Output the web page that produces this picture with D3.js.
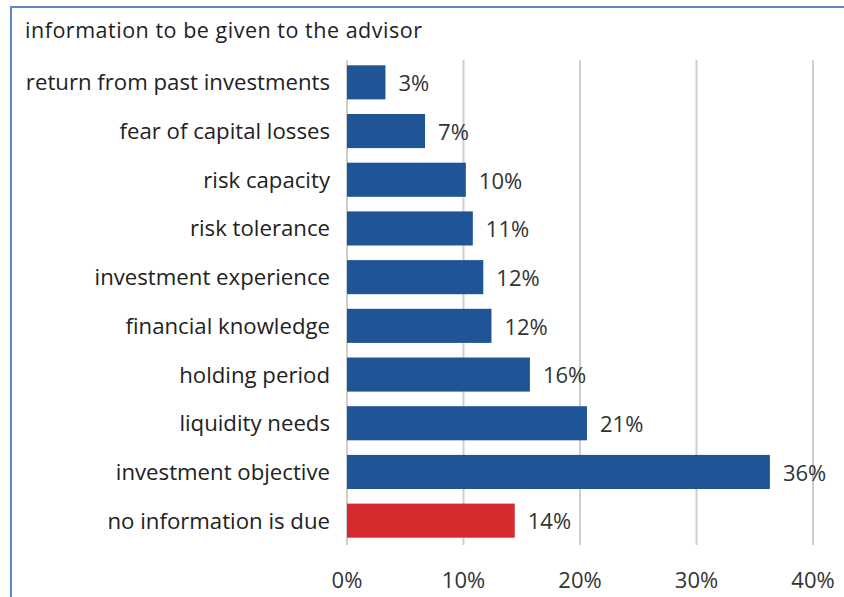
<!DOCTYPE html>
<html>
<head>
<meta charset="utf-8">
<script src="https://cdn.jsdelivr.net/npm/d3@7"></script>
<style>
  body { margin: 0; background: #fff; }
  svg text { font-family: "Open Sans", sans-serif; fill: #222; }
</style>
</head>
<body>
<svg id="chart" width="844" height="597"></svg>
<script>
const title = "information to be given to the advisor";
const categories = [
  "return from past investments",
  "fear of capital losses",
  "risk capacity",
  "risk tolerance",
  "investment experience",
  "financial knowledge",
  "holding period",
  "liquidity needs",
  "investment objective",
  "no information is due"
];
const values = [3.3, 6.7, 10.2, 10.8, 11.7, 12.4, 15.7, 20.6, 36.3, 14.4];
const valueLabels = ["3%", "7%", "10%", "11%", "12%", "12%", "16%", "21%", "36%", "14%"];
const barColors = ["#1f5597", "#1f5597", "#1f5597", "#1f5597", "#1f5597",
  "#1f5597", "#1f5597", "#1f5597", "#1f5597", "#d62b2e"];
const ticks = [0, 10, 20, 30, 40];

const svg = d3.select("#chart");

// frame lines (top and left)
svg.append("line").attr("x1", 11).attr("x2", 844).attr("y1", 7).attr("y2", 7)
  .attr("stroke", "#5b87c9").attr("stroke-width", 2);
svg.append("line").attr("x1", 11).attr("x2", 11).attr("y1", 6).attr("y2", 597)
  .attr("stroke", "#5b87c9").attr("stroke-width", 2);

svg.append("text").attr("x", 25).attr("y", 38)
  .attr("font-size", 21.5).attr("textLength", 397).text(title);

const x = d3.scaleLinear().domain([0, 40]).range([347, 813]);
const y = d3.scaleBand().domain(categories).range([58, 545]).paddingInner(0.3).paddingOuter(0.15);

// gridlines
svg.append("g").selectAll("line").data(ticks).join("line")
  .attr("x1", d => x(d)).attr("x2", d => x(d))
  .attr("y1", 60).attr("y2", 545)
  .attr("stroke", "#cfcfcf").attr("stroke-width", 2);

// bars
svg.append("g").selectAll("rect").data(categories).join("rect")
  .attr("x", x(0))
  .attr("y", d => y(d))
  .attr("width", (d, i) => x(values[i]) - x(0))
  .attr("height", y.bandwidth())
  .attr("fill", (d, i) => barColors[i]);

// value labels
svg.append("g").selectAll("text").data(categories).join("text")
  .attr("x", (d, i) => x(values[i]) + 13)
  .attr("y", d => y(d) + y.bandwidth() / 2)
  .attr("dy", "0.4em")
  .attr("font-size", 22)
  .style("fill", "#333")
  .text((d, i) => valueLabels[i]);

// category labels
svg.append("g").selectAll("text").data(categories).join("text")
  .attr("x", 330)
  .attr("y", d => y(d) + y.bandwidth() / 2)
  .attr("dy", "0.36em")
  .attr("text-anchor", "end")
  .attr("font-size", 22.2)
  .text(d => d);

// x axis labels
svg.append("g").selectAll("text").data(ticks).join("text")
  .attr("x", d => x(d))
  .attr("y", 588)
  .attr("text-anchor", "middle")
  .attr("font-size", 22)
  .style("fill", "#333")
  .text(d => d + "%");
</script>
</body>
</html>
